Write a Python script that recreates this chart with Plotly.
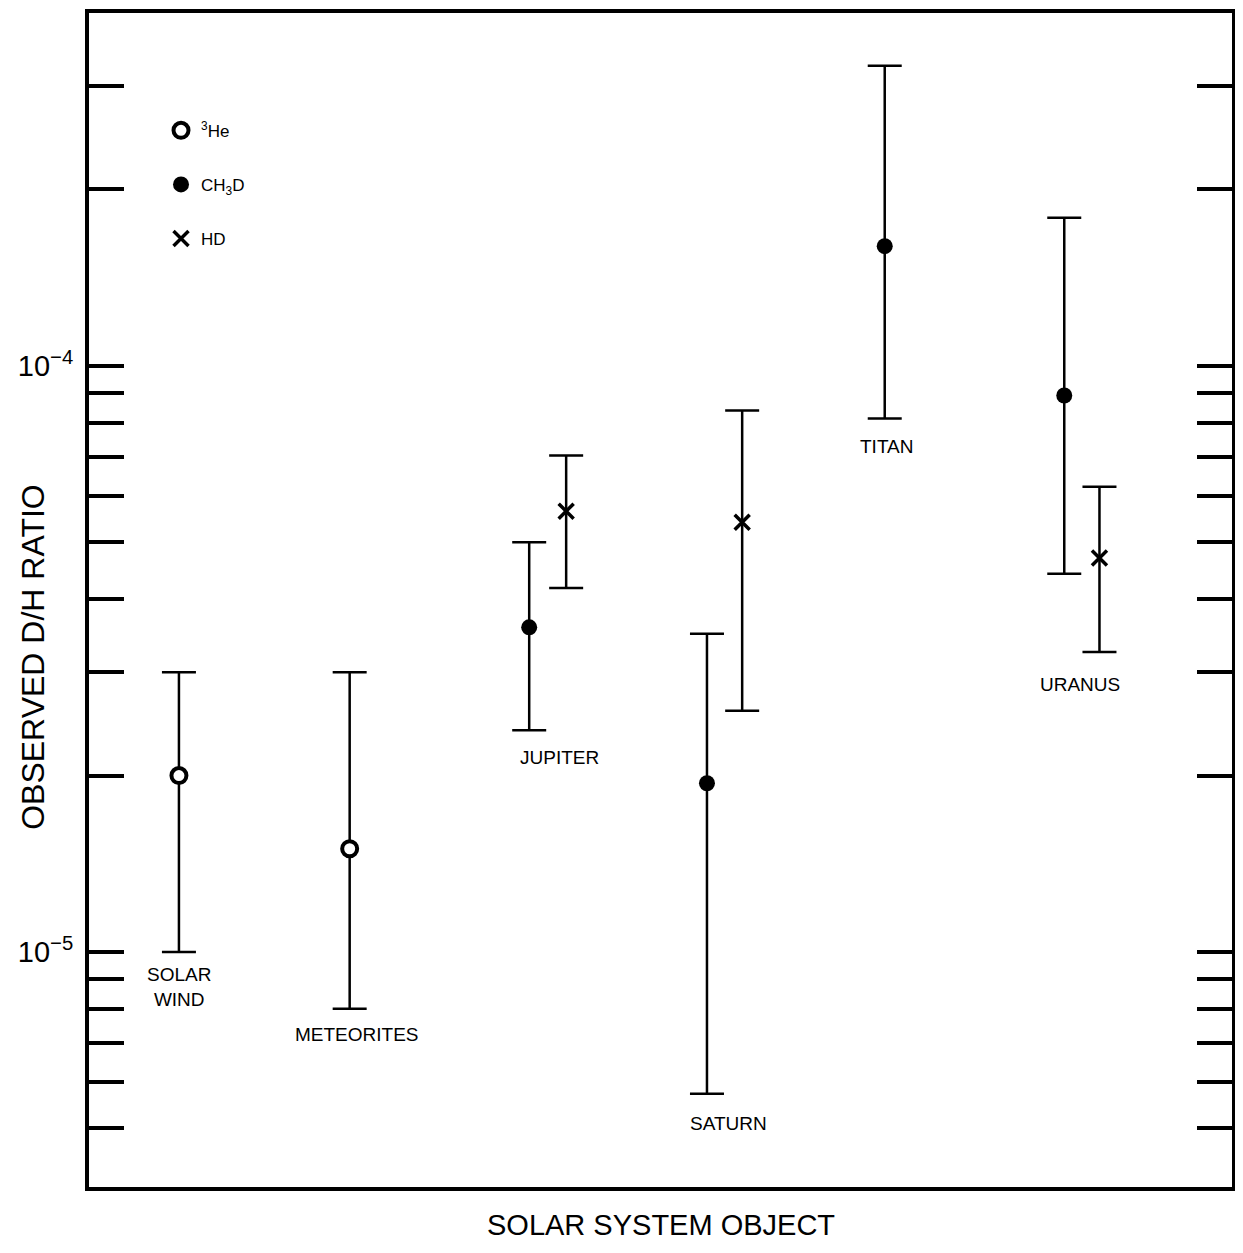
import numpy as np
import plotly.graph_objects as go

# ---- data ----
objects = ["SOLAR<br>WIND", "METEORITES", "JUPITER", "SATURN", "TITAN", "URANUS"]

he3_x = [0.0, 0.97]
he3_val = [2.0e-5, 1.5e-5]
he3_hi = [3.0e-5, 3.0e-5]
he3_lo = [1.0e-5, 8.0e-6]

ch3d_x = [1.99, 3.0, 4.01, 5.03]
ch3d_val = [3.58e-5, 1.94e-5, 1.60e-4, 8.9e-5]
ch3d_hi = [5.0e-5, 3.49e-5, 3.25e-4, 1.79e-4]
ch3d_lo = [2.39e-5, 5.73e-6, 8.13e-5, 4.42e-5]

hd_x = [2.2, 3.2, 5.23]
hd_val = [5.65e-5, 5.41e-5, 4.70e-5]
hd_hi = [7.03e-5, 8.39e-5, 6.22e-5]
hd_lo = [4.18e-5, 2.58e-5, 3.25e-5]

label_x = [0.0, 1.01, 2.16, 3.12, 4.02, 5.12]
label_y = [8.72e-6, 7.22e-6, 2.15e-5, 5.10e-6, 7.28e-5, 2.86e-5]

tick_vals = [5e-6, 6e-6, 7e-6, 8e-6, 9e-6,
             1e-5, 2e-5, 3e-5, 4e-5, 5e-5, 6e-5, 7e-5, 8e-5, 9e-5,
             1e-4, 2e-4, 3e-4]
tick_text = ["" if v not in (1e-5, 1e-4) else
             ("10<sup>\u22125</sup>" if v == 1e-5 else "10<sup>\u22124</sup>")
             for v in tick_vals]

FONT = "Liberation Sans, Arial, sans-serif"


def err(val, hi, lo):
    v, h, l = np.array(val), np.array(hi), np.array(lo)
    return dict(type="data", symmetric=False, array=h - v, arrayminus=v - l,
                color="black", thickness=2.5, width=17)


fig = go.Figure()
fig.add_trace(go.Scatter(
    x=he3_x, y=he3_val, mode="markers", name="<sup>3</sup>He", legendgroup="a",
    marker=dict(symbol="circle", size=15, color="white",
                line=dict(color="black", width=4)),
    error_y=err(he3_val, he3_hi, he3_lo)))
fig.add_trace(go.Scatter(
    x=ch3d_x, y=ch3d_val, mode="markers", name="CH<sub>3</sub>D", legendgroup="b",
    marker=dict(symbol="circle", size=16, color="black"),
    error_y=err(ch3d_val, ch3d_hi, ch3d_lo)))
fig.add_trace(go.Scatter(
    x=hd_x, y=hd_val, mode="markers", name="HD", legendgroup="c",
    marker=dict(symbol="x-thin-open", size=15, color="black",
                line=dict(color="black", width=3.5)),
    error_y=err(hd_val, hd_hi, hd_lo)))

for name, lx, ly in zip(objects, label_x, label_y):
    fig.add_annotation(x=lx, y=np.log10(ly), xref="x", yref="y", text=name,
                       showarrow=False, xanchor="center", yanchor="middle",
                       font=dict(family=FONT, size=19, color="black"))

# y-axis title
fig.add_annotation(x=-0.049, y=0.4516, xref="paper", yref="paper",
                   text="OBSERVED D/H RATIO", textangle=-90, showarrow=False,
                   xanchor="center", yanchor="middle",
                   font=dict(family=FONT, size=32, color="black"))

# x-axis title
fig.add_annotation(x=0.5, y=-0.0323, xref="paper", yref="paper",
                   text="SOLAR SYSTEM OBJECT", showarrow=False,
                   xanchor="center", yanchor="middle",
                   font=dict(family=FONT, size=29, color="black"))

fig.update_layout(
    width=1235, height=1237,
    margin=dict(l=81, r=11, t=1, b=58),
    paper_bgcolor="white", plot_bgcolor="white",
    font=dict(family=FONT, color="black"),
    showlegend=True,
    legend=dict(x=0.063, y=0.915, xanchor="left", yanchor="top",
                traceorder="grouped", tracegroupgap=29,
                bgcolor="rgba(0,0,0,0)", font=dict(size=17, family=FONT)),
    xaxis=dict(range=[-0.511, 5.983], showgrid=False, zeroline=False,
               showticklabels=False, ticks="", showline=True, mirror=True,
               linewidth=4, linecolor="black"),
    yaxis=dict(type="log", range=[-5.401, -3.398], showgrid=False, zeroline=False,
               showline=True, mirror="ticks", linewidth=4, linecolor="black",
               ticks="inside", ticklen=35, tickwidth=4, tickcolor="black",
               tickmode="array", tickvals=tick_vals, ticktext=tick_text,
               tickfont=dict(family=FONT, size=29, color="black"),
               ticklabelstandoff=6),
)

fig.write_html("out.html")
